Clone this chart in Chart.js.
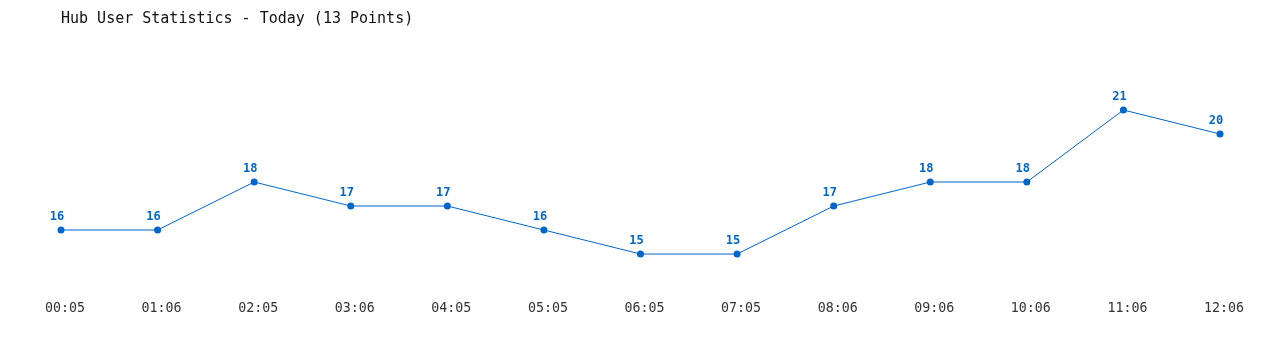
<!DOCTYPE html>
<html>
<head>
<meta charset="utf-8">
<script src="https://cdn.jsdelivr.net/npm/chart.js@4/dist/chart.umd.min.js"></script>
<style>
  body { margin: 0; background: #fff; }
  canvas { display: block; }
</style>
</head>
<body>
<canvas id="hubChart" width="1280" height="350"></canvas>
<script>
const timeLabels = ['00:05','01:06','02:05','03:06','04:05','05:05','06:05','07:05','08:06','09:06','10:06','11:06','12:06'];
const userCounts = [16, 16, 18, 17, 17, 16, 15, 15, 17, 18, 18, 21, 20];
const chartTitle = 'Hub User Statistics - Today (13 Points)';

const blue = '#0066cc';
const mono = '"DejaVu Sans Mono", "Liberation Mono", monospace';

// draw the value above each point
const valueLabels = {
	id: 'valueLabels',
	afterDatasetsDraw(chart) {
		const ctx = chart.ctx;
		const meta = chart.getDatasetMeta(0);
		ctx.save();
		ctx.font = 'bold 12px ' + mono;
		ctx.fillStyle = blue;
		ctx.textAlign = 'center';
		ctx.textBaseline = 'bottom';
		meta.data.forEach((pt, i) => {
			ctx.fillText(String(userCounts[i]), pt.x - 4, pt.y - 7);
		});
		ctx.restore();
	}
};

new Chart(document.getElementById('hubChart').getContext('2d'), {
	type: 'line',
	data: {
		labels: timeLabels,
		datasets: [{
			data: userCounts,
			borderColor: blue,
			backgroundColor: blue,
			borderWidth: 1,
			pointRadius: 3.5,
			pointBorderWidth: 0,
			tension: 0
		}]
	},
	options: {
		responsive: false,
		animation: false,
		layout: { padding: { left: 61, right: 60, top: 0, bottom: 18 } },
		plugins: {
			legend: { display: false },
			tooltip: { enabled: false },
			title: {
				display: true,
				text: chartTitle,
				align: 'start',
				color: '#111',
				font: { family: mono, size: 15, weight: 'normal' },
				padding: { top: 10, bottom: 58 }
			}
		},
		scales: {
			x: {
				offset: false,
				grid: { display: false },
				border: { display: false },
				ticks: {
					color: '#333',
					font: { family: mono, size: 13.3 },
					padding: 15,
					labelOffset: 4,
					maxRotation: 0,
					autoSkip: false
				}
			},
			y: {
				display: false,
				min: 14,
				max: 22
			}
		}
	},
	plugins: [valueLabels]
});
</script>
</body>
</html>
